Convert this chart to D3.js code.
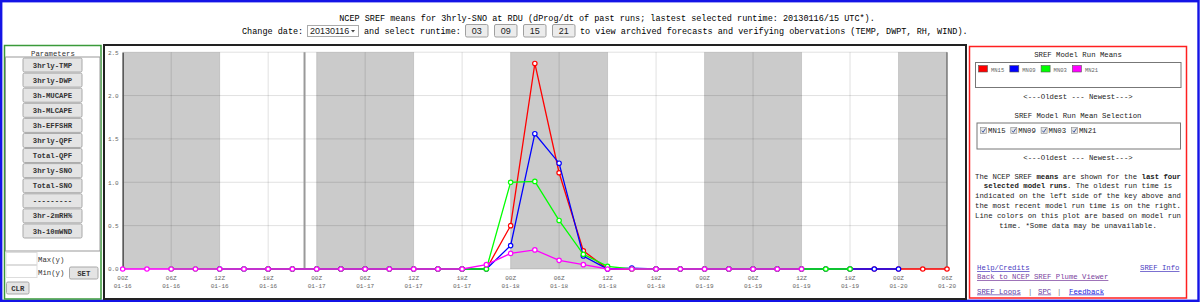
<html>
<head>
<style>
    body { margin: 0; background-color: #ffffff; }
    svg text { font-family: "Courier New", "Liberation Mono", monospace; }
    .sans { font-family: "Liberation Sans", Arial, sans-serif !important; }
</style>
</head>
<body>
<svg id="page" width="1200" height="303"></svg>
<script src="https://cdn.jsdelivr.net/npm/d3@7"></script>
<script>
    // ---- data ----
    let startTime = new Date(Date.UTC(2013, 0, 16, 0))
    let endTime = new Date(Date.UTC(2013, 0, 20, 6))
    let markerTime = new Date(Date.UTC(2013, 0, 16, 22, 30))

    let runNames = ["MN15", "MN09", "MN03", "MN21"]
    let runColors = ["#ff0000", "#0000ff", "#00ff00", "#ff00ff"]
    // first valid time of each run (3 hourly, 29 values each)
    let runFirstValid = [
        new Date(Date.UTC(2013, 0, 16, 18)),
        new Date(Date.UTC(2013, 0, 16, 12)),
        new Date(Date.UTC(2013, 0, 16, 6)),
        new Date(Date.UTC(2013, 0, 16, 0))
    ]
    let mn15 = [0,0,0,0,0,0,0,0,0,0, 0.5,2.37,1.11,0.21, 0,0,0,0,0,0,0,0,0,0,0,0,0,0,0]
    let mn09 = [0,0,0,0,0,0,0,0,0,0,0,0, 0.27,1.56,1.22,0.15,0,0.01, 0,0,0,0,0,0,0,0,0,0,0]
    let mn03 = [0,0,0,0,0,0,0,0,0,0,0,0,0,0, 1.0,1.01,0.56,0.17,0.03, 0,0,0,0,0,0,0,0,0,0]
    let mn21 = [0,0,0,0,0,0,0,0,0,0,0,0,0,0,0, 0.05,0.18,0.22,0.10,0.05, 0,0,0,0,0,0,0,0,0]
    let runValues = [mn15, mn09, mn03, mn21]

    let yTicks = [0, 0.5, 1.0, 1.5, 2.0, 2.5]
    let nightBands = [
        [Date.UTC(2013, 0, 16, 0), Date.UTC(2013, 0, 16, 12)],
        [Date.UTC(2013, 0, 17, 0), Date.UTC(2013, 0, 17, 12)],
        [Date.UTC(2013, 0, 18, 0), Date.UTC(2013, 0, 18, 12)],
        [Date.UTC(2013, 0, 19, 0), Date.UTC(2013, 0, 19, 12)],
        [Date.UTC(2013, 0, 20, 0), Date.UTC(2013, 0, 20, 6)]
    ]

    let paramButtons = ["3hrly-TMP","3hrly-DWP","3h-MUCAPE","3h-MLCAPE","3h-EFFSHR","3hrly-QPF",
                        "Total-QPF","3hrly-SNO","Total-SNO","---------","3hr-2mRH%","3h-10mWND"]
    let runtimeButtons = ["03", "09", "15", "21"]

    let titleText = "NCEP SREF means for 3hrly-SNO at RDU (dProg/dt of past runs; lastest selected runtime: 20130116/15 UTC*)."
    let infoLines = [
        [["The NCEP SREF ", false], ["means", true], [" are shown for the ", false], ["last four", true]],
        [["selected model runs", true], [". The oldest run time is", false]],
        [["indicated on the left side of the key above and", false]],
        [["the most recent model run time is on the right.", false]],
        [["Line colors on this plot are based on model run", false]],
        [["time. *Some data may be unavailable.", false]]
    ]

    let svg = d3.select("#page")

    // ---- page frame and panels ----
    svg.append("rect").attr("x", 1.2).attr("y", 1.2).attr("width", 1197.3).attr("height", 299.6)
        .attr("fill", "none").attr("stroke", "#1414e6").attr("stroke-width", 2.4)
    svg.append("rect").attr("x", 4.5).attr("y", 45.5).attr("width", 96.5).attr("height", 253.5)
        .attr("fill", "none").attr("stroke", "#3a9a3a").attr("stroke-width", 1.5)
    svg.append("rect").attr("x", 104).attr("y", 45).attr("width", 862).attr("height", 254)
        .attr("fill", "none").attr("stroke", "#222").attr("stroke-width", 2)
    svg.append("rect").attr("x", 969.5).attr("y", 46.5).attr("width", 217).attr("height", 251.5)
        .attr("fill", "none").attr("stroke", "#ff2020").attr("stroke-width", 1.5)

    // ---- header ----
    let header = svg.append("g").attr("font-size", "8.5px")
    header.append("text").attr("x", 607).attr("y", 20.5).attr("text-anchor", "middle").text(titleText)
    header.append("text").attr("x", 242).attr("y", 33.5).text("Change date:")
    header.append("rect").attr("x", 307.5).attr("y", 25.5).attr("width", 51).attr("height", 11)
        .attr("fill", "#fff").attr("stroke", "#aaa")
    header.append("text").attr("class", "sans").attr("x", 310).attr("y", 34).attr("font-size", "9px")
        .attr("fill", "#222").text("20130116")
    header.append("path").attr("d", "M351,30 L355,30 L353,32.5 Z").attr("fill", "#444")
    header.append("text").attr("x", 364).attr("y", 33.5).text("and select runtime:")
    header.selectAll(".rtbtn")
        .data(runtimeButtons)
        .enter()
        .append("g")
        .attr("transform", (d, i) => "translate(" + (465.5 + i * 29) + ",24.5)")
        .each(function (d) {
            let g = d3.select(this)
            g.append("rect").attr("width", 22.5).attr("height", 12.5).attr("rx", 1.5)
                .attr("fill", "#ececec").attr("stroke", "#a0a0a0")
            g.append("text").attr("class", "sans").attr("x", 11.2).attr("y", 9.5).attr("text-anchor", "middle")
                .attr("font-size", "9px").attr("fill", "#222").text(d)
        })
    header.append("text").attr("x", 580).attr("y", 33.5)
        .text("to view archived forecasts and verifying obervations (TEMP, DWPT, RH, WIND).")

    // ---- left parameter panel ----
    let left = svg.append("g").attr("font-size", "7.3px")
    left.append("rect").attr("x", 5.5).attr("y", 57).attr("width", 94.5).attr("height", 194)
        .attr("fill", "none").attr("stroke", "#999")
    left.append("text").attr("x", 53).attr("y", 56).attr("text-anchor", "middle").attr("fill", "#333")
        .text("Parameters")

    let btnScale = d3.scaleBand().domain(paramButtons).range([58, 238]).paddingInner(0.07)
    left.selectAll(".pbtn")
        .data(paramButtons)
        .enter()
        .append("g")
        .attr("transform", d => "translate(23," + btnScale(d) + ")")
        .each(function (d) {
            let g = d3.select(this)
            g.append("rect").attr("width", 59).attr("height", btnScale.bandwidth()).attr("rx", 1.5)
                .attr("fill", "#e4e4e4").attr("stroke", "#a8a8a8")
            g.append("text").attr("x", 29.5).attr("y", btnScale.bandwidth() / 2 + 2.6)
                .attr("text-anchor", "middle").attr("font-weight", "bold").attr("fill", "#333").text(d)
        })

    left.append("rect").attr("x", 6).attr("y", 252.5).attr("width", 31).attr("height", 12)
        .attr("fill", "#fff").attr("stroke", "#ddd")
    left.append("rect").attr("x", 6).attr("y", 265.5).attr("width", 31).attr("height", 12)
        .attr("fill", "#fff").attr("stroke", "#ddd")
    left.append("text").attr("x", 38).attr("y", 261.5).attr("fill", "#333").text("Max(y)")
    left.append("text").attr("x", 38).attr("y", 274.5).attr("fill", "#333").text("Min(y)")
    left.append("rect").attr("x", 69.5).attr("y", 267).attr("width", 28.5).attr("height", 12).attr("rx", 1.5)
        .attr("fill", "#e4e4e4").attr("stroke", "#a8a8a8")
    left.append("text").attr("x", 83.7).attr("y", 275.6).attr("text-anchor", "middle")
        .attr("font-weight", "bold").attr("fill", "#333").text("SET")
    left.append("rect").attr("x", 6.5).attr("y", 282).attr("width", 22.5).attr("height", 12).attr("rx", 1.5)
        .attr("fill", "#e4e4e4").attr("stroke", "#a8a8a8")
    left.append("text").attr("x", 17.7).attr("y", 290.6).attr("text-anchor", "middle")
        .attr("font-weight", "bold").attr("fill", "#333").text("CLR")

    // ---- chart ----
    let plotTop = 52.2, plotBottom = 269
    let xScale = d3.scaleUtc().domain([startTime, endTime]).range([122.7, 947])
    let yScale = d3.scaleLinear().domain([0, 2.5]).range([plotBottom, plotTop])
    let chart = svg.append("g")

    chart.selectAll(".night")
        .data(nightBands)
        .enter()
        .append("rect")
        .attr("x", d => xScale(d[0]))
        .attr("width", d => xScale(d[1]) - xScale(d[0]))
        .attr("y", plotTop)
        .attr("height", plotBottom - plotTop)
        .attr("fill", "#cbcbcb")

    let sixHourTicks = xScale.ticks(d3.utcHour.every(6))

    chart.selectAll(".vgrid")
        .data(sixHourTicks)
        .enter()
        .append("line")
        .attr("x1", d => xScale(d)).attr("x2", d => xScale(d))
        .attr("y1", plotTop).attr("y2", plotBottom)
        .attr("stroke", "rgba(0,0,0,0.12)")

    chart.selectAll(".hgrid")
        .data(yTicks)
        .enter()
        .append("line")
        .attr("x1", xScale.range()[0]).attr("x2", xScale.range()[1])
        .attr("y1", d => yScale(d)).attr("y2", d => yScale(d))
        .attr("stroke", "rgba(0,0,0,0.12)")

    chart.append("line")
        .attr("x1", xScale(markerTime)).attr("x2", xScale(markerTime))
        .attr("y1", plotTop).attr("y2", plotBottom)
        .attr("stroke", "#999").attr("stroke-width", 2)

    chart.append("line")
        .attr("x1", xScale.range()[1]).attr("x2", xScale.range()[1])
        .attr("y1", plotTop).attr("y2", plotBottom)
        .attr("stroke", "#666").attr("stroke-width", 1.2)

    let yAxis = chart.append("g")
        .attr("transform", "translate(" + xScale.range()[0] + ",0)")
        .call(d3.axisLeft(yScale).tickValues(yTicks).tickSize(0).tickPadding(4).tickFormat(d3.format(".1f")))
    yAxis.select(".domain").attr("stroke", "#555").attr("stroke-width", 1.5)
    yAxis.selectAll("text").attr("font-size", "6px").attr("fill", "#666")
        .style("font-family", "\"Courier New\", \"Liberation Mono\", monospace")

    let xLabels = chart.append("g").attr("font-size", "6px").attr("fill", "#666")
    xLabels.selectAll(".xl")
        .data(sixHourTicks)
        .enter()
        .append("text")
        .attr("text-anchor", "middle")
        .each(function (d) {
            let t = d3.select(this)
            t.append("tspan").attr("x", xScale(d)).attr("y", 279.5).text(d3.utcFormat("%HZ")(d))
            t.append("tspan").attr("x", xScale(d)).attr("y", 287.5).text(d3.utcFormat("%m-%d")(d))
        })

    let line = d3.line().x(d => xScale(d.time)).y(d => yScale(d.value))

    runNames.forEach((name, s) => {
        let pts = runValues[s].map((v, k) => ({
            time: new Date(runFirstValid[s].getTime() + k * 3 * 3600 * 1000),
            value: v
        }))
        chart.append("path")
            .datum(pts)
            .attr("d", line)
            .attr("fill", "none")
            .attr("stroke", runColors[s])
            .attr("stroke-width", 1.3)
        chart.selectAll(".pt" + name)
            .data(pts)
            .enter()
            .append("circle")
            .attr("cx", d => xScale(d.time))
            .attr("cy", d => yScale(d.value))
            .attr("r", 2.2)
            .attr("fill", "#fff")
            .attr("stroke", runColors[s])
            .attr("stroke-width", 1.2)
    })

    // ---- right panel ----
    let right = svg.append("g").attr("font-size", "7.3px").attr("fill", "#222")
    right.append("text").attr("x", 1078).attr("y", 56.5).attr("text-anchor", "middle").text("SREF Model Run Means")
    right.append("rect").attr("x", 975.5).attr("y", 62.5).attr("width", 205.5).attr("height", 25)
        .attr("fill", "#fff").attr("stroke", "#777")
    let legendItems = right.selectAll(".leg")
        .data(runNames)
        .enter()
        .append("g")
        .attr("transform", (d, i) => "translate(" + (978.5 + i * 31.3) + ",65.5)")
    legendItems.append("rect").attr("width", 9).attr("height", 6.5)
        .attr("fill", (d, i) => runColors[i]).attr("stroke", "#555").attr("stroke-width", 0.6)
    legendItems.append("text").attr("x", 12.5).attr("y", 6).attr("font-size", "5.5px").attr("fill", "#666").text(d => d)

    right.append("text").attr("x", 1078).attr("y", 98.5).attr("text-anchor", "middle").text("<---Oldest --- Newest--->")
    right.append("text").attr("x", 1078).attr("y", 117.5).attr("text-anchor", "middle").text("SREF Model Run Mean Selection")
    right.append("rect").attr("x", 977).attr("y", 123).attr("width", 203.5).attr("height", 26)
        .attr("fill", "#fff").attr("stroke", "#777")
    let checks = right.selectAll(".chk")
        .data(runNames)
        .enter()
        .append("g")
        .attr("transform", (d, i) => "translate(" + (980.5 + i * 30.3) + ",127.5)")
    checks.append("rect").attr("width", 6).attr("height", 6).attr("fill", "#e6e6e6").attr("stroke", "#888").attr("stroke-width", 0.6)
    checks.append("path").attr("d", "M1.2,3.2 L2.6,4.8 L5,1").attr("fill", "none").attr("stroke", "#2a4a9a").attr("stroke-width", 0.9)
    checks.append("text").attr("x", 7.5).attr("y", 5.8).text(d => d)
    right.append("text").attr("x", 1078).attr("y", 160).attr("text-anchor", "middle").text("<---Oldest --- Newest--->")

    right.selectAll(".info")
        .data(infoLines)
        .enter()
        .append("text")
        .attr("x", 1078)
        .attr("y", (d, i) => 178.5 + i * 9.9)
        .attr("text-anchor", "middle")
        .each(function (parts) {
            let t = d3.select(this)
            parts.forEach(p => t.append("tspan").attr("font-weight", p[1] ? "bold" : "normal").text(p[0]))
        })

    let link = (txt, x, y, color, anchor) => right.append("text").attr("x", x).attr("y", y)
        .attr("text-anchor", anchor || "start").attr("fill", color)
        .attr("text-decoration", "underline").text(txt)
    link("Help/Credits", 977, 270, "#4a3cc0")
    link("SREF Info", 1179.5, 270, "#4a3cc0", "end")
    link("Back to NCEP SREF Plume Viewer", 977, 279, "#7a3f9e")
    link("SREF Loops", 977, 293.5, "#5a3aa8")
    right.append("text").attr("x", 1028).attr("y", 293.5).attr("fill", "#777").text("|")
    link("SPC", 1038, 293.5, "#6a3aa0")
    right.append("text").attr("x", 1057).attr("y", 293.5).attr("fill", "#777").text("|")
    link("Feedback", 1069, 293.5, "#1a1ae0")
</script>
</body>
</html>
